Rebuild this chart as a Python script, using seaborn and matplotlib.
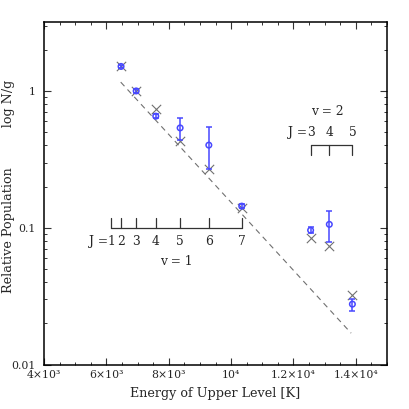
import numpy as np
import pandas as pd
import seaborn as sns
import matplotlib
matplotlib.use("Agg")
import matplotlib.pyplot as plt
from matplotlib.ticker import FixedLocator, FixedFormatter, MultipleLocator, LogLocator, NullFormatter

# ---- data ----
energy = [6471, 6956, 7584, 8365, 9286, 10341, 12550, 13150, 13890]
n_obs = [1.51, 1.0, 0.654, 0.537, 0.402, 0.144, 0.096, 0.106, 0.0277]
n_lo = [1.46, 0.97, 0.63, 0.437, 0.268, 0.139, 0.091, 0.079, 0.0248]
n_hi = [1.56, 1.03, 0.68, 0.635, 0.546, 0.149, 0.101, 0.132, 0.030]
n_model = [1.51, 1.0, 0.744, 0.432, 0.268, 0.140, 0.0837, 0.0735, 0.0323]
fit_energy = [6460, 13850]
fit_n = [1.16, 0.017]
v1_J = [1, 2, 3, 4, 5, 6, 7]
v1_E = [6149, 6471, 6956, 7584, 8365, 9286, 10341]
v2_J = [3, 4, 5]
v2_E = [12550, 13150, 13890]
xtick_vals = [4000, 6000, 8000, 10000, 12000, 14000]
xtick_labels = ["4×10³", "6×10³", "8×10³", "10⁴", "1.2×10⁴", "1.4×10⁴"]
ytick_vals = [0.01, 0.1, 1]
ytick_labels = ["0.01", "0.1", "1"]

df = pd.DataFrame({"E": energy, "obs": n_obs, "lo": n_lo, "hi": n_hi, "model": n_model})
fit_df = pd.DataFrame({"E": fit_energy, "N": fit_n})

sns.set_style("ticks")
plt.rcParams["font.family"] = ["DejaVu Serif"]

blue = "#4848ff"
gray = "#707070"
fs_tick = 7.8
fs_lab = 9.2
fs_ann = 8.8

fig = plt.figure(figsize=(4.09, 4.09), dpi=100)
ax = fig.add_axes([0.1076, 0.1083, 0.8386, 0.8367])

# fit line
sns.lineplot(data=fit_df, x="E", y="N", ax=ax, color=gray, lw=0.8,
             linestyle=(0, (5, 4)), legend=False)
# model crosses
sns.scatterplot(data=df, x="E", y="model", ax=ax, marker="x", s=45,
                color=gray, linewidth=0.8, legend=False, zorder=3)
# observed with error bars
yerr = np.array([df["obs"] - df["lo"], df["hi"] - df["obs"]])
ax.errorbar(df["E"], df["obs"], yerr=yerr, fmt="none", ecolor=blue,
            elinewidth=1.1, capsize=2.3, capthick=1.1, zorder=4)
sns.scatterplot(data=df, x="E", y="obs", ax=ax, marker="o", s=16,
                facecolor="none", edgecolor=blue, linewidth=1.1,
                legend=False, zorder=5)

ax.set_yscale("log")
ax.set_xlim(4000, 15000)
ax.set_ylim(0.01, 10 ** 0.5)

# v = 1 ruler
y1 = 0.1
ax.plot([v1_E[0], v1_E[-1]], [y1, y1], color="#333333", lw=0.9)
for e, j in zip(v1_E, v1_J):
    ax.plot([e, e], [y1, y1 * 1.17], color="#333333", lw=0.9)
    ax.text(e, 0.079, str(j), ha="center", va="center", fontsize=fs_ann)
ax.text(v1_E[0] - 100, 0.079, "J =", ha="right", va="center", fontsize=fs_ann)
ax.text(8244, 0.0565, "v = 1", ha="center", va="center", fontsize=fs_ann)

# v = 2 ruler
y2 = 0.4
ax.plot([v2_E[0], v2_E[-1]], [y2, y2], color="#333333", lw=0.9)
for e, j in zip(v2_E, v2_J):
    ax.plot([e, e], [y2, y2 / 1.17], color="#333333", lw=0.9)
    ax.text(e, 0.497, str(j), ha="center", va="center", fontsize=fs_ann)
ax.text(v2_E[0] - 100, 0.497, "J =", ha="right", va="center", fontsize=fs_ann)
ax.text(13082, 0.703, "v = 2", ha="center", va="center", fontsize=fs_ann)

# axes styling
ax.xaxis.set_major_locator(FixedLocator(xtick_vals))
ax.xaxis.set_major_formatter(FixedFormatter(xtick_labels))
ax.xaxis.set_minor_locator(MultipleLocator(500))
ax.yaxis.set_major_locator(FixedLocator(ytick_vals))
ax.yaxis.set_major_formatter(FixedFormatter(ytick_labels))
ax.yaxis.set_minor_locator(LogLocator(base=10, subs=np.arange(2, 10)))
ax.yaxis.set_minor_formatter(NullFormatter())
ax.tick_params(which="both", direction="in", top=True, right=True,
               labelsize=fs_tick, color="#333333")
ax.tick_params(which="major", length=5, width=0.8)
ax.tick_params(which="minor", length=2.5, width=0.7)
ax.tick_params(axis="x", which="major", pad=3.5)
ax.tick_params(axis="y", which="major", pad=6)
for s in ax.spines.values():
    s.set_linewidth(1.1)
    s.set_color("black")

ax.set_xlabel("Energy of Upper Level [K]", fontsize=fs_lab)
ax.set_ylabel("Relative Population          log N/g", fontsize=fs_lab)
ax.xaxis.set_label_coords(0.5, -0.066)
ax.yaxis.set_label_coords(-0.086, 0.52)

fig.savefig("out.png", dpi=100)
